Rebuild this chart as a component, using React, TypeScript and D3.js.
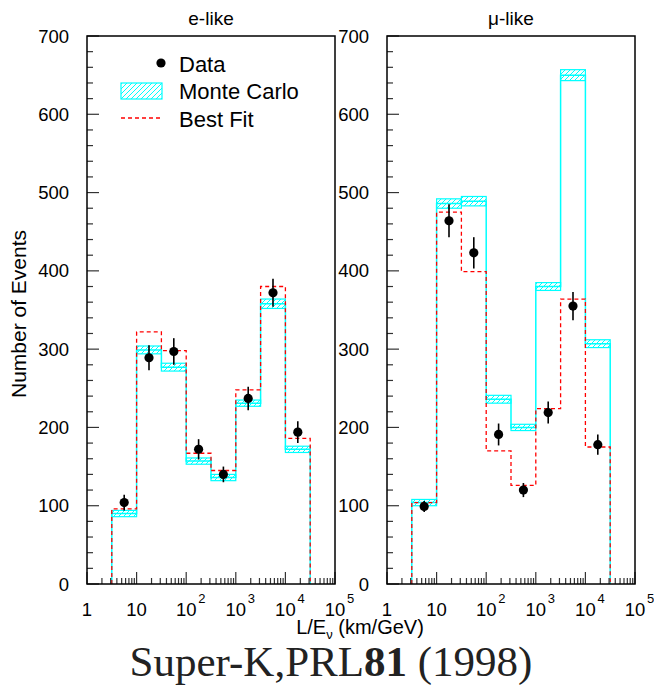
import React from 'react'
import * as d3 from 'd3'

// L/E bins (half-decade edges, km/GeV)
const binEdges = [3.162, 10, 31.62, 100, 316.2, 1000, 3162, 10000, 31623]

// e-like
const eData = [104, 289, 297, 172, 140, 237, 372, 194]
const eDataErr = [10, 16, 17, 13, 10, 15, 18, 14]
const eMC = [90, 299, 277, 157, 136, 231, 358, 172]
const eMCErr = [4, 5, 5, 4, 4, 4, 6, 4]
const eFit = [96, 322, 298, 167, 145, 248, 380, 186]

// mu-like
const muData = [99, 464, 423, 191, 120, 219, 355, 178]
const muDataErr = [7, 21, 20, 14, 9, 14, 18, 13]
const muMC = [104, 486, 489, 236, 200, 380, 650, 307]
const muMCErr = [4, 6, 6, 5, 4, 5, 7, 5]
const muFit = [104, 475, 399, 170, 126, 224, 364, 175]

const yTicks = [0, 100, 200, 300, 400, 500, 600, 700]
const xDecades = [1, 10, 100, 1000, 10000, 100000]
const xExponents = ['', '', '2', '3', '4', '5']
const xBases = ['1', '10', '10', '10', '10', '10']

const CYAN = '#00ffff'
const RED = '#ff0000'
const SANS = '"Liberation Sans", Arial, Helvetica, sans-serif'

const top = 36
const bottom = 584
const panelW = 248

function stepPoints(vals: number[]) {
  const pts: [number, number][] = [[binEdges[0], 0]]
  vals.forEach((v, i) => {
    pts.push([binEdges[i], v])
    pts.push([binEdges[i + 1], v])
  })
  pts.push([binEdges[binEdges.length - 1], 0])
  return pts
}

function Panel({x0, title, data, dataErr, mc, mcErr, fit, legend}: any) {
  const x = d3.scaleLog().domain([1, 1e5]).range([x0, x0 + panelW])
  const y = d3.scaleLinear().domain([0, 700]).range([bottom, top])
  const line = d3.line<[number, number]>().x(d => x(d[0])).y(d => y(d[1]))

  const minorY = d3.range(0, 701, 20)
  const minorX: number[] = []
  for (let d = 0; d < 5; d++) {
    for (let k = 2; k <= 9; k++) minorX.push(k * Math.pow(10, d))
  }

  return (
    <g>
      <text x={x0 + panelW / 2} y={25} textAnchor="middle" fontFamily={SANS} fontSize={19}>{title}</text>

      {/* MC boxes */}
      {mc.map((v: number, i: number) => (
        <rect key={'mc' + i} x={x(binEdges[i])} y={y(v + mcErr[i])}
          width={x(binEdges[i + 1]) - x(binEdges[i])} height={y(v - mcErr[i]) - y(v + mcErr[i])}
          fill="url(#hatch)" stroke={CYAN} strokeWidth={1.2} />
      ))}
      <path d={line(stepPoints(mc)) || ''} fill="none" stroke={CYAN} strokeWidth={1.5} />
      <path d={line(stepPoints(fit)) || ''} fill="none" stroke={RED} strokeWidth={1.3} strokeDasharray="4,3" />

      {/* data */}
      {data.map((v: number, i: number) => {
        const cx = x(Math.sqrt(binEdges[i] * binEdges[i + 1]))
        return (
          <g key={'d' + i}>
            <line x1={cx} x2={cx} y1={y(v - dataErr[i])} y2={y(v + dataErr[i])} stroke="#000" strokeWidth={1.6} />
            <circle cx={cx} cy={y(v)} r={4.6} fill="#000" />
          </g>
        )
      })}

      {/* ticks */}
      {minorY.map(t => (
        <line key={'my' + t} x1={x0} x2={x0 + (t % 100 === 0 ? 12 : 6)} y1={y(t)} y2={y(t)} stroke="#333" strokeWidth={1.2} />
      ))}
      {minorX.map(t => (
        <line key={'mx' + t} x1={x(t)} x2={x(t)} y1={bottom} y2={bottom - 6} stroke="#333" strokeWidth={1.2} />
      ))}
      {xDecades.map(t => (
        <line key={'Mx' + t} x1={x(t)} x2={x(t)} y1={bottom} y2={bottom - 12} stroke="#333" strokeWidth={1.2} />
      ))}
      <rect x={x0} y={top} width={panelW} height={bottom - top} fill="none" stroke="#000" strokeWidth={1.5} />

      {/* tick labels */}
      {yTicks.map(t => (
        <text key={'ly' + t} x={x0 - 18} y={y(t) + 6.5} textAnchor="end" fontFamily={SANS} fontSize={18.5}>{t}</text>
      ))}
      {xDecades.map((t, i) => (
        <g key={'lx' + t}>
          <text x={x(t)} y={616} textAnchor="middle" fontFamily={SANS} fontSize={18.5}>{xBases[i]}</text>
          {xExponents[i] && (
            <text x={x(t) + 12} y={603} fontFamily={SANS} fontSize={13}>{xExponents[i]}</text>
          )}
        </g>
      ))}

      {legend && (
        <g fontFamily={SANS} fontSize={22}>
          <circle cx={161} cy={63} r={4.6} fill="#000" />
          <text x={179} y={72}>Data</text>
          <rect x={121} y={83} width={41} height={16} fill="url(#hatch)" stroke={CYAN} strokeWidth={1.2} />
          <text x={179} y={99}>Monte Carlo</text>
          <line x1={121} x2={162} y1={118} y2={118} stroke={RED} strokeWidth={1.3} strokeDasharray="4,3" />
          <text x={179} y={127}>Best Fit</text>
        </g>
      )}
    </g>
  )
}

export default function App() {
  return (
    <svg width={654} height={687} style={{position: 'absolute', left: 0, top: 0, background: '#fff'}}>
      <defs>
        <pattern id="hatch" patternUnits="userSpaceOnUse" width={5} height={5}>
          <rect width={5} height={5} fill="#fff" />
          <path d="M-1,1 l2,-2 M0,5 l5,-5 M4,6 l2,-2" stroke={CYAN} strokeWidth={1} />
        </pattern>
      </defs>
      <rect width={654} height={687} fill="#fff" />
      <Panel x0={87} title="e-like" data={eData} dataErr={eDataErr} mc={eMC} mcErr={eMCErr} fit={eFit} legend />
      <Panel x0={387} title="μ-like" data={muData} dataErr={muDataErr} mc={muMC} mcErr={muMCErr} fit={muFit} />

      <text transform="translate(26,314) rotate(-90)" textAnchor="middle" fontFamily={SANS} fontSize={21}>Number of Events</text>
      <text x={360} y={634} textAnchor="middle" fontFamily={SANS} fontSize={20}>
        L/E<tspan fontSize={13} dy={5}>ν</tspan><tspan dy={-5}> (km/GeV)</tspan>
      </text>
      <text x={331} y={676} textAnchor="middle" fontFamily='"Liberation Serif", "Times New Roman", serif' fontSize={43} fill="#222">
        Super-K,PRL<tspan fontWeight="bold">81</tspan> (1998)
      </text>
    </svg>
  )
}
